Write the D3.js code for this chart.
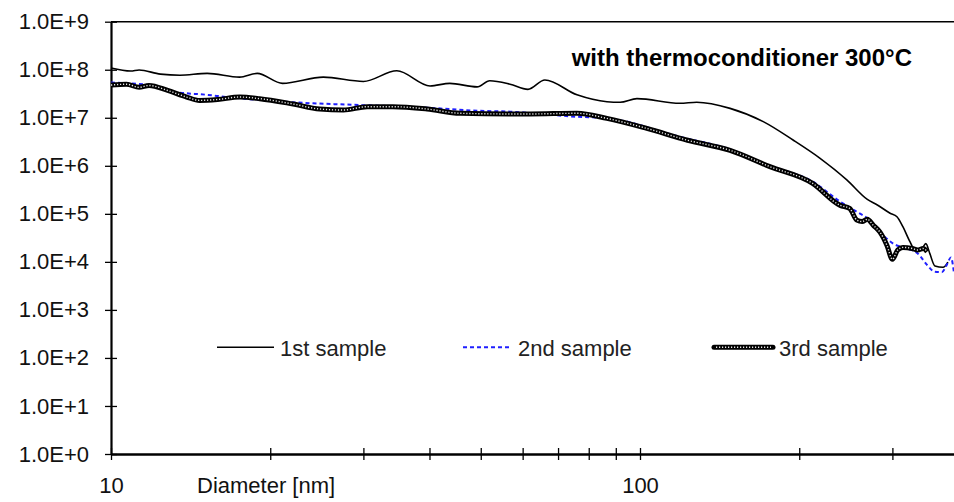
<!DOCTYPE html>
<html>
<head>
<meta charset="utf-8">
<script src="https://cdn.jsdelivr.net/npm/d3@7"></script>
<style>
  body { margin: 0; background: #fff; }
  svg { display: block; font-family: "Liberation Sans", Arial, sans-serif; }
</style>
</head>
<body>
<div id="container"></div>
<script>
// data: diameter [nm] and concentration
var sample1_d = [10.0, 10.9, 11.3, 12.4, 13.5, 15.2, 17.5, 18.9, 21.1, 25.2, 30.0, 34.7, 40.1, 43.7, 49.2, 52.0, 56.8, 61.4, 66.1, 76.0,
                 86.6, 91.7, 98.7, 119, 128, 148, 171, 195, 219, 246, 269, 281, 297, 306, 314, 324, 331, 341, 347, 353, 361, 374, 382]
var sample1_v = [1.09e8, 9.4e7, 9.9e7, 8.1e7, 7.7e7, 8.4e7, 7.0e7, 8.4e7, 5.2e7, 7.0e7, 5.7e7, 9.5e7, 4.6e7, 5.2e7, 4.4e7, 5.9e7, 5.0e7, 3.9e7, 6.1e7, 3.0e7,
                 2.16e7, 2.1e7, 2.5e7, 2.0e7, 2.1e7, 1.57e7, 8.3e6, 3.4e6, 1.43e6, 5.1e5, 2.0e5, 1.53e5, 1.03e5, 8.7e4, 5.4e4, 2.6e4, 1.77e4, 1.9e4, 2.4e4, 1.5e4, 8.2e3, 7.7e3, 9.9e3]

var sample2_d = [10.0, 11.8, 13.1, 15.2, 16.6, 20.6, 24.1, 29.6, 39.6, 49.2, 56.8, 76.0, 86.6, 119, 148, 176, 212, 239, 257, 272,
                 288, 301, 320, 335, 349, 361, 372, 380, 387, 392]
var sample2_v = [5.4e7, 4.8e7, 3.5e7, 3.0e7, 2.7e7, 2.2e7, 2.0e7, 1.84e7, 1.62e7, 1.4e7, 1.34e7, 1.05e7, 9.8e6, 4.0e6, 2.2e6, 1.0e6, 4.7e5, 1.79e5, 1.1e5, 7.4e4,
                 3.6e4, 2.4e4, 1.9e4, 1.5e4, 8.6e3, 6.2e3, 6.1e3, 8.6e3, 1.24e4, 6.2e3]

var sample3_d = [10.0, 10.7, 11.3, 11.8, 12.8, 13.9, 14.7, 15.9, 17.5, 19.1, 22.1, 24.8, 27.5, 30.5, 34.1, 39.6, 45.7, 56.8, 61.9, 76.0,
                 86.6, 103, 123, 148, 176, 212, 239, 249, 257, 263, 269, 276, 284, 293, 300, 307, 314, 327, 335, 343, 349]
var sample3_v = [4.8e7, 5.0e7, 4.3e7, 4.7e7, 3.7e7, 2.7e7, 2.3e7, 2.4e7, 2.7e7, 2.5e7, 1.93e7, 1.52e7, 1.45e7, 1.7e7, 1.7e7, 1.52e7, 1.24e7, 1.2e7, 1.2e7, 1.24e7,
                 9.7e6, 6.0e6, 3.4e6, 2.1e6, 9.6e5, 4.3e5, 1.5e5, 1.3e5, 7.4e4, 6.9e4, 7.7e4, 5.8e4, 4.2e4, 2.2e4, 1.13e4, 1.77e4, 2.0e4, 1.9e4, 1.77e4, 1.9e4, 1.63e4]

var xTicks = [10, 20, 30, 40, 50, 60, 70, 80, 90, 100, 200, 300, 400]
var xLabels = [10, 100]
var yTicks = [1, 1e1, 1e2, 1e3, 1e4, 1e5, 1e6, 1e7, 1e8, 1e9]
var legendNames = ["1st sample", "2nd sample", "3rd sample"]
var titleText = "with thermoconditioner 300\u00B0C"
var xTitle = "Diameter [nm]"

var w = 954
var h = 502
var plotLeft = 111, plotTop = 21.7, plotBottom = 454, decade = 529

var svg = d3.select("#container").append("svg")
    .attr("width", w)
    .attr("height", h)

var x = d3.scaleLog().domain([10, 1000]).range([plotLeft, plotLeft + 2 * decade])
var y = d3.scaleLog().domain([1, 1e9]).range([plotBottom, plotTop])

// top border of plot area
svg.append("line")
    .attr("x1", plotLeft).attr("x2", w)
    .attr("y1", plotTop).attr("y2", plotTop)
    .attr("stroke", "#000").attr("stroke-width", 1.5)

// x axis
var gx = svg.append("g")
    .attr("transform", "translate(0," + plotBottom + ")")
    .call(d3.axisBottom(x).tickValues(xTicks).tickSizeOuter(0)
        .tickFormat(function (d) { return xLabels.indexOf(d) >= 0 ? d : "" }))
gx.select(".domain").attr("stroke-width", 2.5)
gx.selectAll(".tick line").attr("y1", -6).attr("y2", 6).attr("stroke-width", 1.3)
gx.selectAll(".tick text")
    .attr("y", 39).attr("dy", null)
    .style("font-size", "22px").attr("fill", "#111")

svg.append("text")
    .attr("x", 197).attr("y", 493)
    .style("font-size", "22px").attr("fill", "#111")
    .text(xTitle)

// y axis
var gy = svg.append("g")
    .attr("transform", "translate(" + plotLeft + ",0)")
    .call(d3.axisLeft(y).tickValues(yTicks).tickSizeOuter(0)
        .tickFormat(function (d) { return "1.0E+" + Math.round(Math.log10(d)) }))
gy.select(".domain").attr("stroke-width", 2.2)
gy.selectAll(".tick line").attr("x1", 6).attr("x2", -6).attr("stroke-width", 1.3)
gy.selectAll(".tick text")
    .attr("x", -22)
    .style("font-size", "22px").attr("fill", "#111")

// series
function pts(ds, vs) { return ds.map(function (d, i) { return [d, vs[i]] }) }
var line = d3.line()
    .curve(d3.curveMonotoneX)
    .x(function (d) { return x(d[0]) })
    .y(function (d) { return y(d[1]) })

var plot = svg.append("g")

plot.append("path")
    .datum(pts(sample1_d, sample1_v))
    .attr("d", line)
    .attr("fill", "none").attr("stroke", "#000").attr("stroke-width", 1.6)

plot.append("path")
    .datum(pts(sample2_d, sample2_v))
    .attr("d", line)
    .attr("fill", "none").attr("stroke", "#1f1fff").attr("stroke-width", 2)
    .attr("stroke-dasharray", "4,3")

var s3 = pts(sample3_d, sample3_v)
plot.append("path")
    .datum(s3)
    .attr("d", line)
    .attr("fill", "none").attr("stroke", "#000").attr("stroke-width", 5)
    .attr("stroke-linejoin", "round")
plot.append("path")
    .datum(s3)
    .attr("d", line)
    .attr("fill", "none").attr("stroke", "#e8e8e8").attr("stroke-width", 1.4)
    .attr("stroke-dasharray", "1.2,1.8")

// legend
var legendX = [217, 463, 714]
var legendLen = [57, 49, 59]
var legendY = 347.3
legendNames.forEach(function (name, i) {
    var g = svg.append("g")
    var x0 = legendX[i], x1 = legendX[i] + legendLen[i]
    if (i == 0) {
        g.append("line").attr("x1", x0).attr("x2", x1).attr("y1", legendY).attr("y2", legendY)
            .attr("stroke", "#000").attr("stroke-width", 1.6)
    } else if (i == 1) {
        g.append("line").attr("x1", x0).attr("x2", x1).attr("y1", legendY).attr("y2", legendY)
            .attr("stroke", "#1f1fff").attr("stroke-width", 2).attr("stroke-dasharray", "4,3")
    } else {
        g.append("line").attr("x1", x0).attr("x2", x1).attr("y1", legendY).attr("y2", legendY)
            .attr("stroke", "#000").attr("stroke-width", 5).attr("stroke-linecap", "round")
        g.append("line").attr("x1", x0 + 2).attr("x2", x1 - 2).attr("y1", legendY).attr("y2", legendY)
            .attr("stroke", "#e8e8e8").attr("stroke-width", 1.4).attr("stroke-dasharray", "1.2,1.8")
    }
    g.append("text")
        .attr("x", x1 + 6).attr("y", 356)
        .style("font-size", "22px").attr("fill", "#222")
        .text(name)
})

// title
svg.append("text")
    .attr("x", 912).attr("y", 66)
    .attr("text-anchor", "end")
    .style("font-size", "24px").style("font-weight", "bold")
    .text(titleText)
</script>
</body>
</html>
